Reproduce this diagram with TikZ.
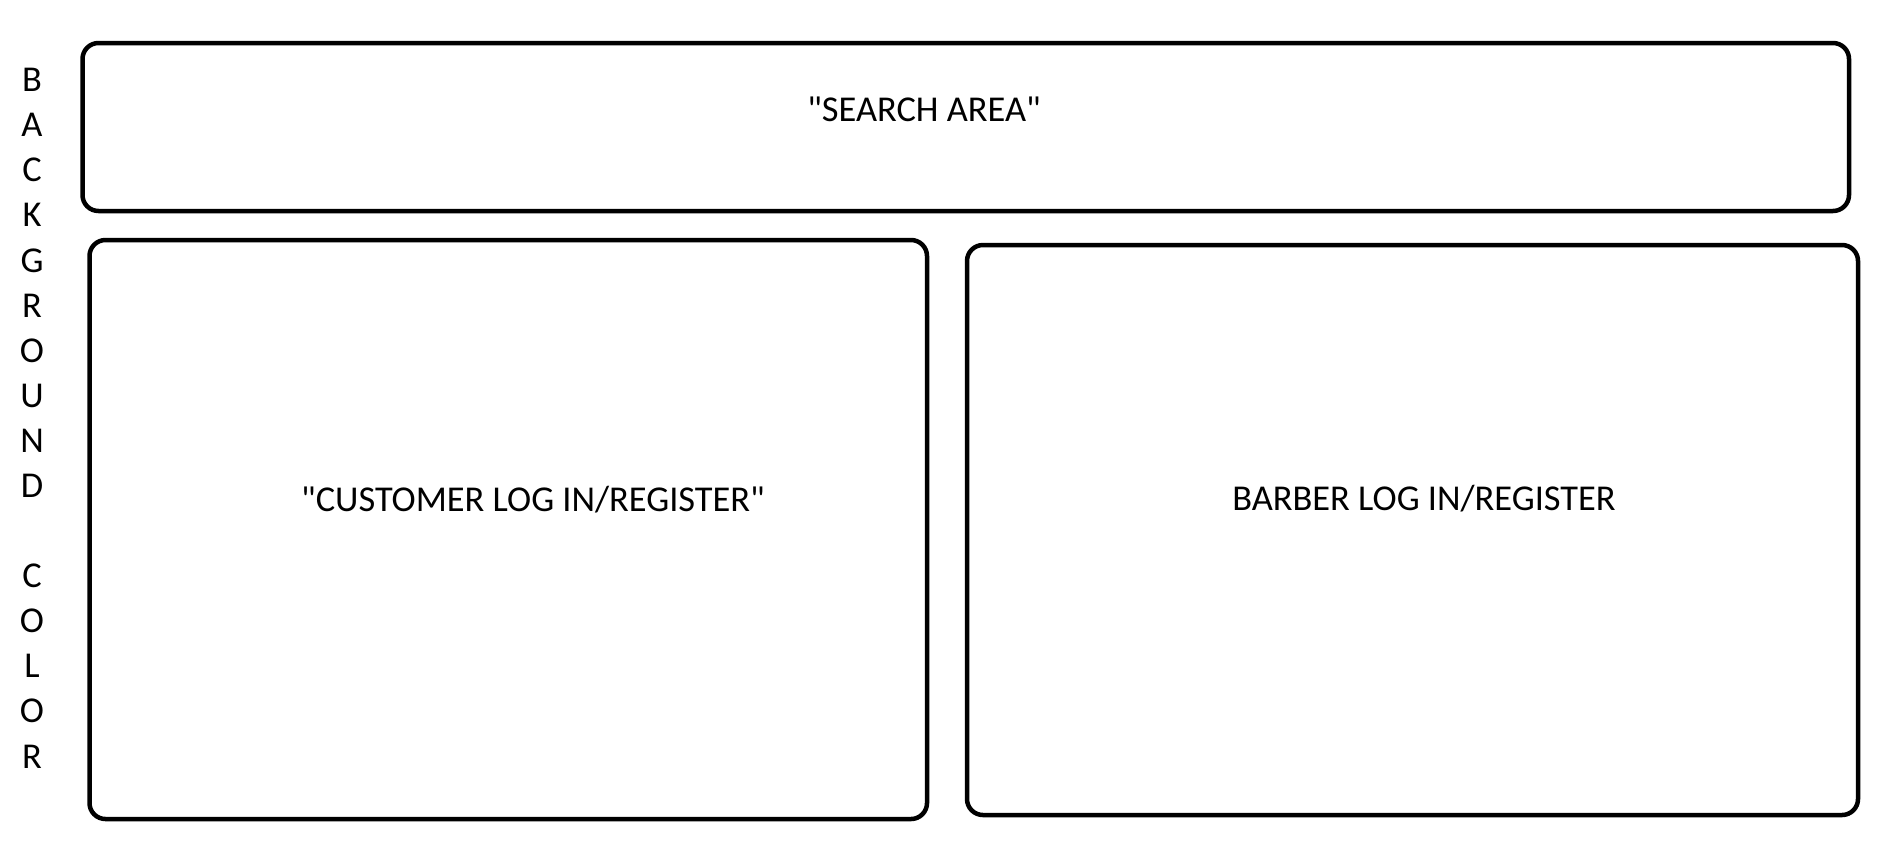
\documentclass[tikz,border=0pt]{standalone}
\usepackage{fontspec}
\setmainfont{Carlito}[Ligatures=TeXOff]
\begin{document}
\begin{tikzpicture}[x=0.5pt,y=-0.5pt,
  panel/.style={draw=black,line width=2.25pt,rounded corners=8pt},
  lbl/.style={inner sep=0pt,font=\fontsize{18.2}{22}\selectfont},
  vletter/.style={inner sep=0pt,anchor=base,font=\fontsize{18.2}{22}\selectfont}]
\useasboundingbox[fill=white] (0,0) rectangle (1884,842);
% panels
\draw[panel] (82.5,43) rectangle (1849,211);
\draw[panel] (89.5,240) rectangle (927,819);
\draw[panel] (967,245) rectangle (1858,815);
% labels
\node[lbl] (search) at (924,109.5) {"SEARCH AREA"};
\node[lbl] (cust) at (533,499.5) {"CUSTOMER LOG IN/REGISTER"};
\node[lbl] (barb) at (1424,499) {BARBER LOG IN/REGISTER};
% vertical text
\foreach \c [count=\i from 0] in {B,A,C,K,G,R,O,U,N,D,{},C,O,L,O,R} {
  \node[vletter] (l\i) at (32,91.7+45.09*\i) {\c};
}
\end{tikzpicture}
\end{document}
